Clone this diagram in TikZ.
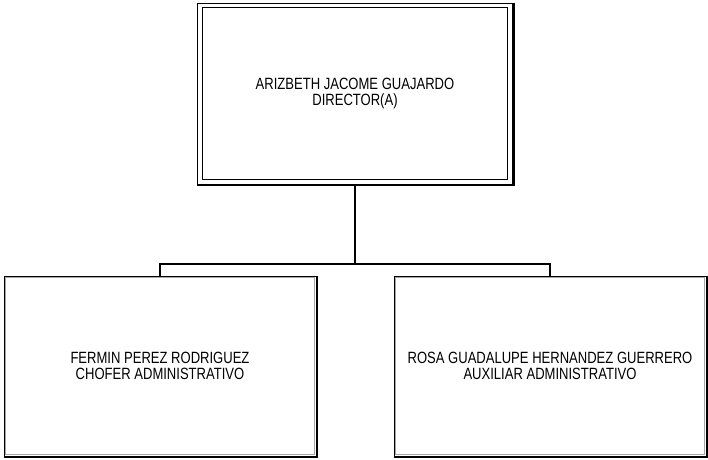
\documentclass[tikz,border=0pt]{standalone}
\usepackage{fontspec}
\setmainfont{Liberation Sans}[FakeStretch=0.8]
\begin{document}
\begin{tikzpicture}[x=1pt,y=-1pt,
  box/.style={draw=black,line width=0.9pt,rectangle,inner sep=0pt,align=center,
    font=\fontsize{16.3}{16}\selectfont},
  shadowline/.style={line width=1.6pt,black},
  conn/.style={line width=1.5pt,black}]
\useasboundingbox (0,0) rectangle (708,459);
\node[box,minimum width=315pt,minimum height=181pt] (top) at (355,93.5)
  {ARIZBETH JACOME GUAJARDO\\DIRECTOR(A)};
\draw[line width=1.6pt] ([shift={(5.5pt,-5pt)}]top.north west) rectangle ([shift={(-5.5pt,5pt)}]top.south east);
\draw[shadowline] ([xshift=0.8pt]top.north east) -- ([shift={(0.8pt,-0.8pt)}]top.south east) -- ([yshift=-0.8pt]top.south west);

\node[box,minimum width=312pt,minimum height=180pt] (left) at (160,366)
  {FERMIN PEREZ RODRIGUEZ\\CHOFER ADMINISTRATIVO};
\node[box,minimum width=312pt,minimum height=180pt] (right) at (550,366)
  {ROSA GUADALUPE HERNANDEZ GUERRERO\\AUXILIAR ADMINISTRATIVO};
\foreach \b in {left,right}{
  \draw[black!35,line width=0.6pt] ([shift={(1.8pt,-1.8pt)}]\b.north west) rectangle ([shift={(-1.8pt,1.8pt)}]\b.south east);
  \draw[shadowline] ([xshift=0.8pt]\b.north east) -- ([shift={(0.8pt,-0.8pt)}]\b.south east) -- ([yshift=-0.8pt]\b.south west);
}
\coordinate (junction) at (355,264);
\draw[conn] ([yshift=-0.8pt]top.south) -- (junction);
\draw[conn] (left.north) |- (junction) -| (right.north);
\end{tikzpicture}
\end{document}
